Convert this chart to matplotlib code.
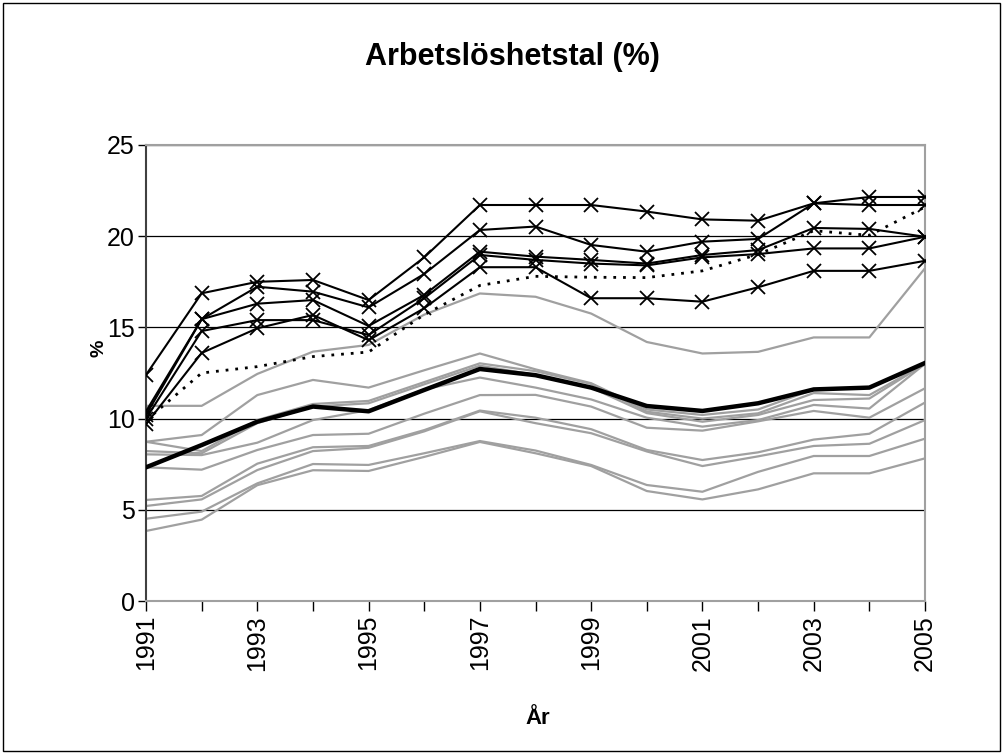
import matplotlib.pyplot as plt
from matplotlib.patches import Rectangle

years = list(range(1991, 2006))

# svarta serier med kryss
serie_a = [12.4, 16.87, 17.5, 17.6, 16.5, 18.84, 21.71, 21.71, 21.71, 21.35, 20.92, 20.85, 21.8, 22.15, 22.15]
serie_b = [10.4, 15.45, 17.23, 16.96, 16.1, 17.93, 20.34, 20.53, 19.52, 19.15, 19.7, 19.85, 21.8, 21.71, 21.71]
serie_c = [10.2, 15.45, 16.3, 16.5, 15.08, 16.78, 19.15, 18.88, 18.7, 18.5, 18.97, 19.24, 20.45, 20.4, 19.97]
serie_d = [10.0, 14.8, 15.4, 15.4, 14.58, 16.6, 18.97, 18.7, 18.5, 18.4, 18.84, 19.02, 19.33, 19.33, 19.97]
serie_e = [9.7, 13.6, 14.95, 15.68, 14.3, 16.05, 18.3, 18.3, 16.6, 16.6, 16.41, 17.2, 18.1, 18.1, 18.65]

# prickad linje och tjock rikslinje
prickad = [9.9, 12.5, 12.85, 13.4, 13.65, 15.7, 17.3, 17.8, 17.75, 17.73, 18.1, 19.0, 20.3, 20.05, 21.6]
riket = [7.33, 8.55, 9.83, 10.66, 10.4, 11.57, 12.72, 12.38, 11.7, 10.69, 10.42, 10.84, 11.6, 11.7, 13.05]

# grå linjer
gra_1 = [10.7, 10.7, 12.45, 13.67, 14.04, 15.7, 16.86, 16.68, 15.76, 14.2, 13.57, 13.66, 14.45, 14.45, 18.24]
gra_2 = [8.73, 9.1, 11.29, 12.12, 11.7, 12.65, 13.57, 12.7, 11.94, 10.5, 10.2, 10.5, 11.6, 11.7, 13.0]
gra_3 = [8.73, 8.22, 9.92, 10.8, 10.97, 12.0, 13.03, 12.6, 11.9, 10.38, 10.0, 10.29, 11.4, 11.29, 13.0]
gra_4 = [8.22, 8.1, 9.75, 10.66, 10.84, 11.88, 12.9, 12.4, 11.7, 10.3, 9.83, 10.2, 11.02, 11.1, 13.0]
gra_5 = [8.04, 8.0, 8.68, 9.92, 10.47, 11.6, 12.25, 11.7, 11.05, 10.05, 9.56, 9.92, 10.75, 10.55, 13.0]
gra_6 = [7.33, 7.2, 8.28, 9.1, 9.17, 10.27, 11.29, 11.3, 10.66, 9.5, 9.34, 9.85, 10.42, 10.05, 11.66]
gra_7 = [5.54, 5.76, 7.53, 8.43, 8.5, 9.37, 10.44, 10.05, 9.42, 8.28, 7.73, 8.15, 8.85, 9.17, 10.88]
gra_8 = [5.21, 5.57, 7.18, 8.22, 8.4, 9.3, 10.4, 9.75, 9.2, 8.2, 7.4, 7.93, 8.5, 8.62, 9.92]
gra_9 = [4.51, 4.9, 6.45, 7.51, 7.46, 8.1, 8.77, 8.25, 7.46, 6.36, 5.99, 7.08, 7.95, 7.95, 8.9]
gra_10 = [3.84, 4.46, 6.35, 7.17, 7.13, 7.9, 8.72, 8.1, 7.4, 6.03, 5.57, 6.12, 7.0, 7.0, 7.82]

gra_linjer = [gra_1, gra_2, gra_3, gra_4, gra_5, gra_6, gra_7, gra_8, gra_9, gra_10]
svarta = [serie_a, serie_b, serie_c, serie_d, serie_e]

plt.rcParams['font.family'] = ['Liberation Sans', 'DejaVu Sans']

fig = plt.figure(figsize=(10.03, 7.54), dpi=100)
ax = fig.add_axes([0.1456, 0.2029, 0.7766, 0.6048])

# ram runt hela diagrammet
fig.patches.append(Rectangle((0.003, 0.004), 0.994, 0.992, transform=fig.transFigure,
                             fill=False, edgecolor='black', linewidth=1.0))

for g in gra_linjer:
    ax.plot(years, g, color='#a0a0a0', linewidth=1.6, zorder=2)

ax.plot(years, riket, color='black', linewidth=3.2, zorder=3)
ax.plot(years, prickad, color='black', linewidth=2.0, linestyle=(0, (1, 2.5)), zorder=3)

for s in svarta:
    ax.plot(years, s, color='black', linewidth=1.5, marker='x', markersize=10.5,
            markeredgewidth=1.3, zorder=4)

ax.set_xlim(1991, 2005)
ax.set_ylim(0, 25)
ax.set_yticks([0, 5, 10, 15, 20, 25])
ax.yaxis.grid(True, color='black', linewidth=0.9)
ax.set_axisbelow(True)

ax.set_xticks(years)
ax.set_xticklabels([str(y) if y % 2 == 1 else '' for y in years], rotation=90)
ax.tick_params(axis='x', direction='out', length=7, width=1, labelsize=18, pad=3)
ax.tick_params(axis='y', direction='out', length=6, width=1, labelsize=18, pad=2)

for side in ['top', 'right', 'bottom']:
    ax.spines[side].set_color('#a0a0a0')
    ax.spines[side].set_linewidth(1.5)
ax.spines['left'].set_color('#404040')
ax.spines['left'].set_linewidth(1.5)

fig.text(0.5105, 0.924, 'Arbetslöshetstal (%)', ha='center', va='center',
         fontsize=22, fontweight='bold')
fig.text(0.099, 0.538, '%', ha='center', va='center', rotation=90,
         fontsize=14, fontweight='bold')
fig.text(0.536, 0.047, 'År', ha='center', va='center', fontsize=16, fontweight='bold')

fig.savefig('out.png', dpi=100)
